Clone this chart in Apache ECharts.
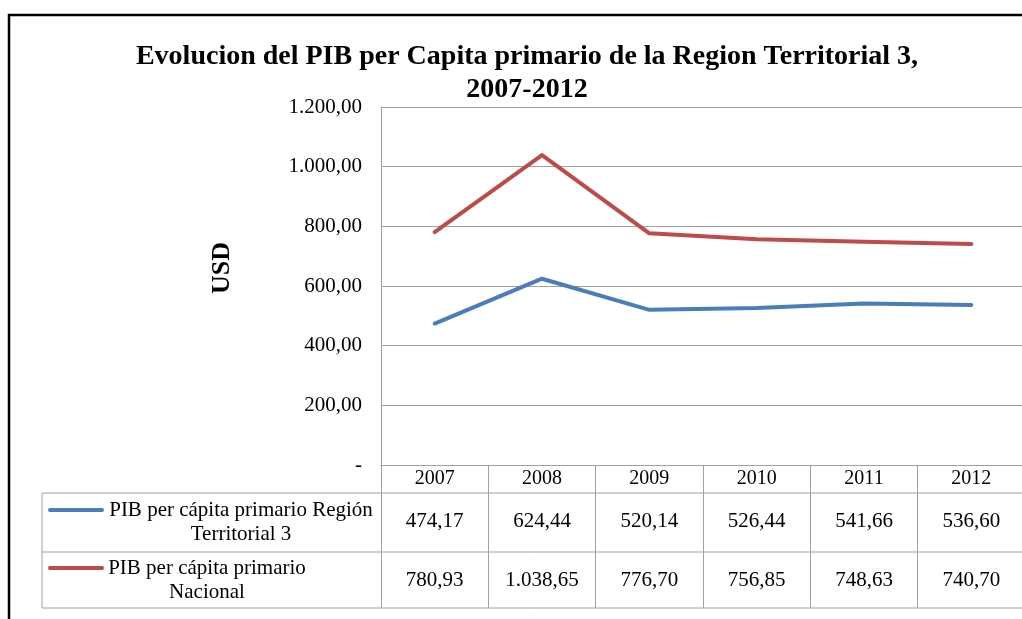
<!DOCTYPE html>
<html>
<head>
<meta charset="utf-8">
<script src="https://cdn.jsdelivr.net/npm/echarts@6/dist/echarts.min.js"></script>
<style>
  html, body { margin: 0; padding: 0; background: #fff; }
  #chart { width: 1022px; height: 619px; }
</style>
</head>
<body>
<div id="chart"></div>
<script>
// Years shown on the category axis
const years = ['2007', '2008', '2009', '2010', '2011', '2012'];
// Primary GDP per capita (USD)
const regionValues = [474.17, 624.44, 520.14, 526.44, 541.66, 536.60];
const nationalValues = [780.93, 1038.65, 776.70, 756.85, 748.63, 740.70];
const seriesNames = ['PIB per cápita primario Región\nTerritorial 3', 'PIB per cápita primario\nNacional'];
const yTicks = [0, 200, 400, 600, 800, 1000, 1200];
const yAxisTitle = 'USD';

const FONT = '"Liberation Serif", "DejaVu Serif", serif';
const GRID_COLOR = '#a0a0a0';
const COLORS = ['#4A7EBB', '#BE4B48'];
const LABEL_SIZE = 21;

// Spanish number format: 1.038,65
function fmt(v) {
  const parts = v.toFixed(2).split('.');
  return parts[0].replace(/\B(?=(\d{3})+(?!\d))/g, '.') + ',' + parts[1];
}

const chart = echarts.init(document.getElementById('chart'), null, { renderer: 'canvas' });

const plotLeft = 381, plotTop = 107, plotW = 644, plotH = 358;
const plotBottom = plotTop + plotH;
const row1Top = 493, row2Top = 552, tableBottom = 608, tableLeft = 42;

// Extra category axes below the plot carry the data-table rows
function tableAxis(values, offset) {
  return {
    type: 'category',
    gridIndex: 0,
    position: 'bottom',
    offset: offset,
    data: values.map(fmt),
    axisLine: { show: false },
    axisTick: { show: false },
    axisLabel: { interval: 0, margin: 18, color: '#000', fontFamily: FONT, fontSize: LABEL_SIZE }
  };
}

const option = {
  animation: false,
  backgroundColor: '#fff',
  title: {
    text: 'Evolucion del PIB per Capita primario de la Region Territorial 3,\n2007-2012',
    left: 522,
    top: 35,
    textAlign: 'center',
    textStyle: { fontFamily: FONT, fontWeight: 'bold', fontSize: 28, color: '#000', lineHeight: 33 }
  },
  grid: {
    left: plotLeft, top: plotTop, width: plotW, height: plotH,
    containLabel: false, outerBoundsMode: 'none'
  },
  xAxis: [
    {
      type: 'category',
      data: years,
      boundaryGap: true,
      axisLine: { show: true, lineStyle: { color: GRID_COLOR, width: 1 } },
      axisTick: { show: true, interval: 0, length: tableBottom - plotBottom, lineStyle: { color: GRID_COLOR, width: 1 } },
      axisLabel: { interval: 0, margin: 4, color: '#000', fontFamily: FONT, fontSize: LABEL_SIZE - 1 },
      splitLine: { show: false }
    },
    tableAxis(regionValues, row1Top - plotBottom),
    tableAxis(nationalValues, row2Top - plotBottom)
  ],
  yAxis: {
    type: 'value',
    min: yTicks[0],
    max: yTicks[yTicks.length - 1],
    interval: 200,
    axisLine: { show: true, lineStyle: { color: GRID_COLOR, width: 1 } },
    axisTick: { show: false },
    axisLabel: {
      margin: 19, color: '#000', fontFamily: FONT, fontSize: LABEL_SIZE,
      formatter: v => (v === 0 ? '-' : fmt(v))
    },
    splitLine: { show: true, lineStyle: { color: GRID_COLOR, width: 1 } }
  },
  series: [
    {
      name: seriesNames[0], type: 'line', data: regionValues,
      xAxisIndex: 0, symbol: 'none',
      lineStyle: { color: COLORS[0], width: 4, cap: 'round', join: 'round' }
    },
    {
      name: seriesNames[1], type: 'line', data: nationalValues,
      xAxisIndex: 0, symbol: 'none',
      lineStyle: { color: COLORS[1], width: 4, cap: 'round', join: 'round' }
    }
  ],
  graphic: {
    elements: [
      // outer frame
      { type: 'rect', shape: { x: 9, y: 15, width: 1200, height: 800 }, style: { fill: 'none', stroke: '#000', lineWidth: 2.5 }, silent: true },
      // value-axis title
      { type: 'text', x: 222, y: 268, rotation: Math.PI / 2, style: { text: yAxisTitle, fill: '#000', font: 'bold 26px ' + FONT, align: 'center', verticalAlign: 'middle' }, silent: true },
      // data table rules
      { type: 'line', shape: { x1: tableLeft, y1: row1Top, x2: 1030, y2: row1Top }, style: { stroke: GRID_COLOR, lineWidth: 1 }, silent: true },
      { type: 'line', shape: { x1: tableLeft, y1: row2Top, x2: 1030, y2: row2Top }, style: { stroke: GRID_COLOR, lineWidth: 1 }, silent: true },
      { type: 'line', shape: { x1: tableLeft, y1: tableBottom, x2: 1030, y2: tableBottom }, style: { stroke: GRID_COLOR, lineWidth: 1 }, silent: true },
      { type: 'line', shape: { x1: tableLeft, y1: row1Top, x2: tableLeft, y2: tableBottom }, style: { stroke: GRID_COLOR, lineWidth: 1 }, silent: true },
      // legend keys and names
      { type: 'line', shape: { x1: 50, y1: 510, x2: 102, y2: 510 }, style: { stroke: COLORS[0], lineWidth: 4, lineCap: 'round' }, silent: true },
      { type: 'text', x: 241, y: 522, style: { text: seriesNames[0], fill: '#000', font: LABEL_SIZE + 'px ' + FONT, align: 'center', verticalAlign: 'middle', lineHeight: 24 }, silent: true },
      { type: 'line', shape: { x1: 50, y1: 568, x2: 102, y2: 568 }, style: { stroke: COLORS[1], lineWidth: 4, lineCap: 'round' }, silent: true },
      { type: 'text', x: 207, y: 580, style: { text: seriesNames[1], fill: '#000', font: LABEL_SIZE + 'px ' + FONT, align: 'center', verticalAlign: 'middle', lineHeight: 24 }, silent: true }
    ]
  }
};

chart.setOption(option);
</script>
</body>
</html>
